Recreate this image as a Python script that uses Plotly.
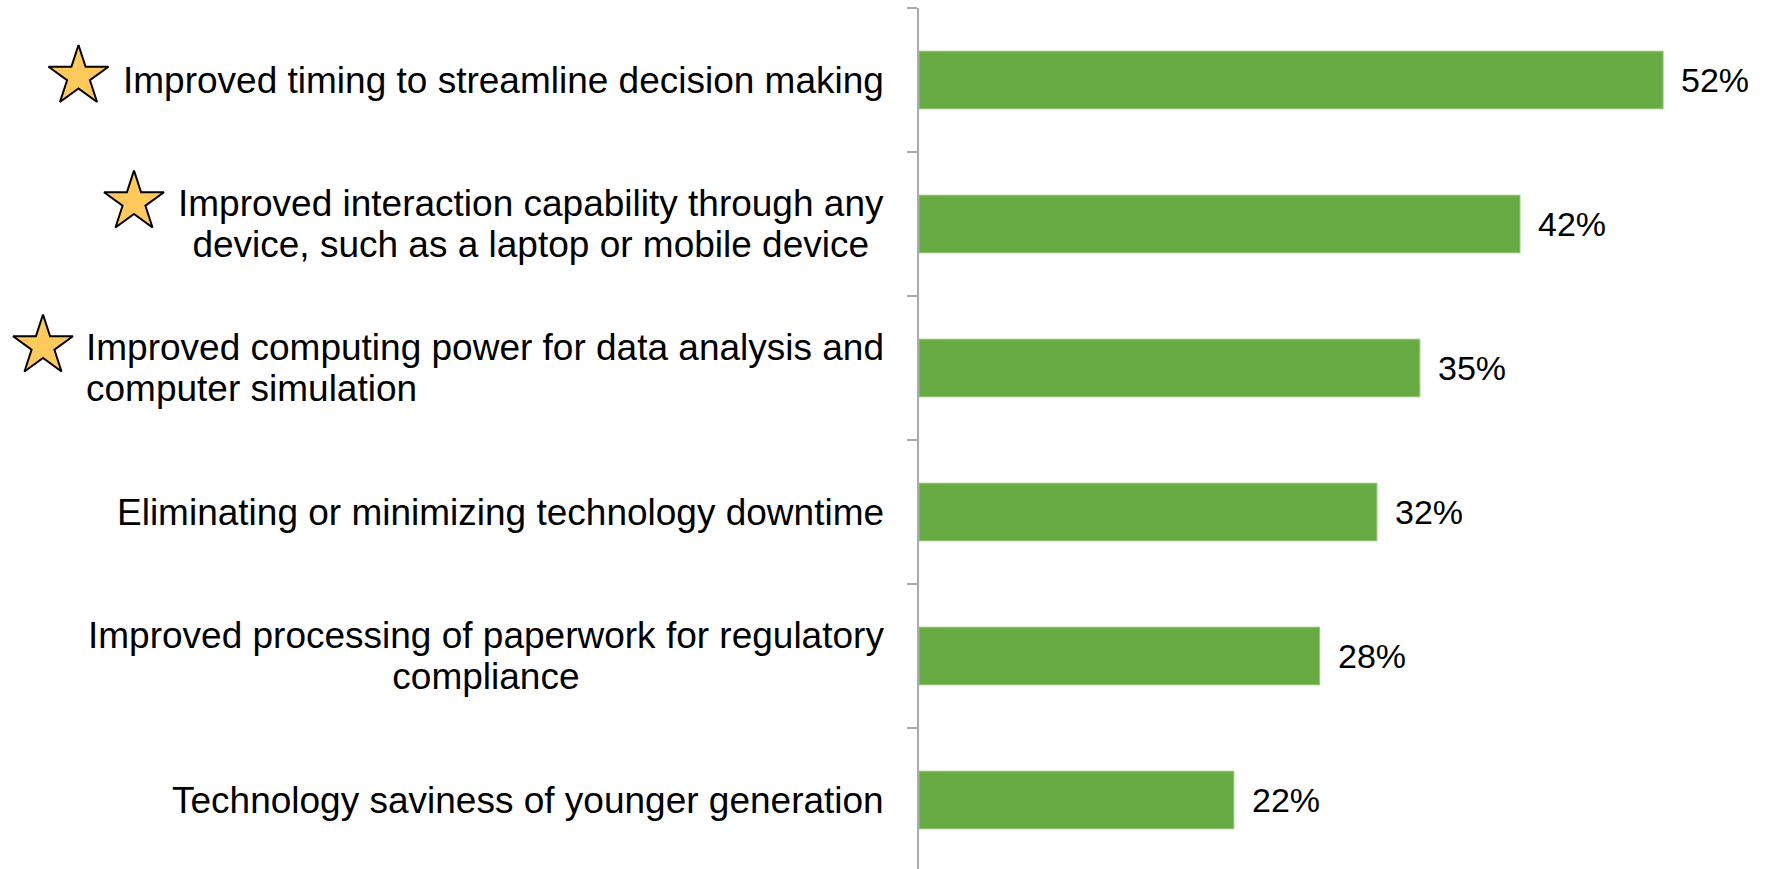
import plotly.graph_objects as go

# Survey results, listed top to bottom
categories = [
    "Improved timing to streamline decision making",
    "Improved interaction capability through any<br>device, such as a laptop or mobile device",
    "Improved computing power for data analysis and<br>computer simulation",
    "Eliminating or minimizing technology downtime",
    "Improved processing of paperwork for regulatory<br>compliance",
    "Technology saviness of younger generation",
]
values = [52, 42, 35, 32, 28, 22]
line_align = ["right", "center", "left", "right", "center", "right"]

# Star badges (page pixel centres) for the highlighted items
star_x = [78.5, 134, 43]
star_y = [76.5, 202, 346]

W, H = 1766, 869
FONT = "Liberation Sans, Arial, sans-serif"
AXIS_GREY = "#ABABAB"
BAR_GREEN = "#67AB45"

x_left_px, x_right_px = 919, 1706
x_max = 55

# category band height in pixels; the last band runs slightly past the page
TOP = 8
BAND = 144
y_span = (H - TOP) / BAND

fig = go.Figure()

fig.add_trace(go.Bar(
    x=values,
    y=categories,
    orientation="h",
    marker=dict(color=BAR_GREEN, line=dict(color="#8FC56F", width=1)),
    width=0.4,
    hoverinfo="skip",
    xaxis="x", yaxis="y",
))

# Stars drawn in a page-pixel overlay
fig.add_trace(go.Scatter(
    x=star_x, y=star_y,
    mode="markers",
    marker=dict(symbol="star", size=45, color="#FFC95C",
                line=dict(color="#000000", width=2)),
    hoverinfo="skip",
    xaxis="x2", yaxis="y2",
    cliponaxis=False,
))

annotations = []
for cat, val, al in zip(categories, values, line_align):
    # category label left of the axis
    annotations.append(dict(
        x=886 / W, xref="paper", xanchor="right",
        y=cat, yref="y", yanchor="middle",
        text=f'<span style="font-size:37px">{cat}</span>',
        align=al, showarrow=False,
        font=dict(family=FONT, size=31.5, color="#000000"),
    ))
    # value label at the bar end
    annotations.append(dict(
        x=val, xref="x", xanchor="left", xshift=16,
        y=cat, yref="y", yanchor="middle",
        text=f"{val}%", showarrow=False,
        font=dict(family=FONT, size=34, color="#000000"),
    ))

fig.update_layout(
    width=W, height=H,
    margin=dict(l=0, r=0, t=TOP, b=0, pad=0),
    paper_bgcolor="white", plot_bgcolor="rgba(0,0,0,0)",
    showlegend=False,
    bargap=0.6,
    xaxis=dict(
        domain=[x_left_px / W, x_right_px / W],
        range=[0, x_max],
        visible=False, fixedrange=True,
    ),
    yaxis=dict(
        type="category",
        categoryorder="array", categoryarray=categories,
        range=[-0.5 + y_span, -0.5],
        domain=[0, 1],
        showline=True, linecolor=AXIS_GREY, linewidth=2,
        ticks="outside", tickson="boundaries", ticklen=10,
        tickcolor=AXIS_GREY, tickwidth=2,
        showticklabels=False, showgrid=False, zeroline=False,
        fixedrange=True,
    ),
    xaxis2=dict(domain=[0, 1], range=[0, W], visible=False,
                anchor="y2", fixedrange=True),
    yaxis2=dict(domain=[0, 1], range=[H, TOP], visible=False,
                anchor="x2", fixedrange=True),
    annotations=annotations,
)

fig.write_html("out.html")
